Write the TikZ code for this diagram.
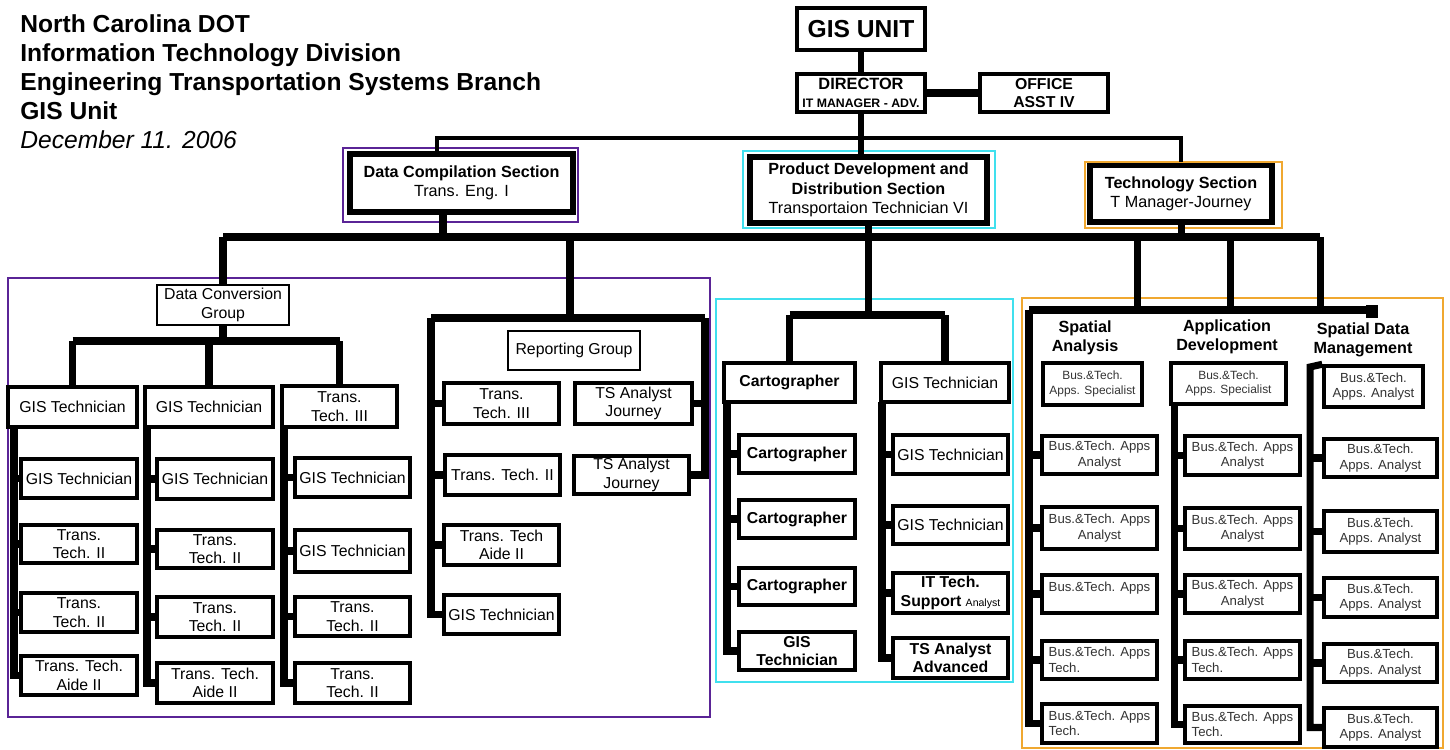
\documentclass[tikz,border=0pt]{standalone}
\usepackage{fontspec}
\setmainfont{Liberation Sans}
\usepackage{tikz}
\definecolor{secpurple}{HTML}{5A2496}
\definecolor{seccyan}{HTML}{40E0EE}
\definecolor{secorange}{HTML}{F0A830}
\tikzset{
    jobbox/.style={
        draw,
        line width=2pt,
        inner sep=0pt,
        align=center,
        font=\fontsize{9}{10.5}\selectfont
    },
    boldbox/.style={
        jobbox,
        font=\bfseries\fontsize{9}{10.5}\selectfont
    },
    smallbox/.style={
        jobbox,
        text=black!80,
        font=\fontsize{7.5}{8.8}\selectfont
    },
    sect/.style={
        draw,
        line width=3.4pt,
        inner sep=0pt,
        align=center,
        font=\fontsize{9.2}{11}\selectfont
    },
    head/.style={
        inner sep=0pt,
        align=center,
        font=\bfseries\fontsize{9.2}{10.8}\selectfont
    },
    frame/.style={
        line width=1.4pt
    },
    conn/.style={
        line width=4pt
    },
    sz/.style 2 args={
        minimum width=#1*0.02cm,
        minimum height=#2*0.02cm
    }
}

\begin{document}
\begin{tikzpicture}[x=0.02cm,y=-0.02cm]
    \useasboundingbox (0,0) rectangle (1450,750);

    %% Title
    \node (title) [anchor=north west, align=left, inner sep=0pt,
        font=\bfseries\fontsize{14}{16.5}\selectfont] at (20,14)
        {North Carolina DOT\\Information Technology Division\\Engineering Transportation Systems Branch\\GIS Unit\\{\mdseries\itshape December 11. 2006}};

    %% Unit head
    \node (gis) [jobbox, sz={128}{42}, line width=2.6pt, font=\bfseries\fontsize{14}{16}\selectfont] at (861,29) {GIS UNIT};
    \node (dir) [jobbox, sz={128}{38}, font=\bfseries\fontsize{9.3}{10}\selectfont] at (861,93) {DIRECTOR\\{\fontsize{7}{8}\selectfont IT MANAGER - ADV.}};
    \node (off) [jobbox, sz={128}{38}, font=\bfseries\fontsize{9}{10.5}\selectfont] at (1044,93) {OFFICE\\ASST IV};
    \draw[conn, line width=3.4pt] (gis) -- (dir);
    \draw[conn, line width=4.5pt] (dir) -- (off);

    %% Sections
    \node (dcs) [sect, sz={223}{58}] at (461.5,183) {\textbf{Data Compilation Section}\\Trans. Eng. I};
    \node (pds) [sect, sz={237}{66}] at (868.5,190) {\textbf{Product Development and}\\\textbf{Distribution Section}\\Transportaion Technician VI};
    \node (tcs) [sect, sz={182}{57}] at (1181,193.5) {\textbf{Technology Section}\\T Manager-Journey};
    \draw[frame, secpurple] (343,148) rectangle (578,222);
    \draw[frame, seccyan] (743,151) rectangle (995,228);
    \draw[frame, secorange] (1085,162) rectangle (1282,228);

    \coordinate (topL) at (437,138);
    \coordinate (topR) at (1181,138);
    \draw[conn, line width=2.4pt] (topL |- dcs.north) -- (topL) -- (topR) -- (topR |- tcs.north);
    \draw[conn, line width=3.4pt] (dir) -- (dir.south |- pds.north);

    %% Section bus
    \coordinate (busL) at (223,237);
    \coordinate (busR) at (1320,237);
    \coordinate (dcsdrop) at (443,237);
    \draw[conn, line width=4.5pt] (busL) -- (busR);
    \draw[conn] (dcsdrop |- dcs.south) -- (dcsdrop);
    \draw[conn] (tcs) -- (tcs |- busL);

    %% Data Compilation group
    \draw[frame, secpurple] (8,278) rectangle (710,717);
    \node (dcg) [jobbox, line width=1.6pt, sz={132}{40}] at (223,305) {Data Conversion\\Group};
    \draw[conn] (dcg) -- (busL);
    \coordinate (dcbus) at (0,341);
    \draw[conn] (dcg) -- (dcg |- dcbus);

    \node (h1) [jobbox, sz={129}{40}] at (72.5,407) {GIS Technician};
    \node (h2) [jobbox, sz={128}{40}] at (209,407) {GIS Technician};
    \node (h3) [jobbox, sz={115}{41}] at (339.5,406.5) {Trans.\\Tech. III};
    \draw[conn] (h1 |- dcbus) -- (h3 |- dcbus);
    \foreach \n in {h1,h2,h3}
        \draw[conn] (\n |- dcbus) -- (\n);

    \node (c11) [jobbox, sz={116}{39}] at (79,478.5) {GIS Technician};
    \node (c12) [jobbox, sz={116}{38}] at (79,544) {Trans.\\Tech. II};
    \node (c13) [jobbox, sz={116}{39}] at (79,612.5) {Trans.\\Tech. II};
    \node (c14) [jobbox, sz={116}{39}] at (79,675.5) {Trans. Tech.\\Aide II};
    \node (c21) [jobbox, sz={116}{40}] at (215,479) {GIS Technician};
    \node (c22) [jobbox, sz={116}{38}] at (215,549) {Trans.\\Tech. II};
    \node (c23) [jobbox, sz={116}{40}] at (215,617) {Trans.\\Tech. II};
    \node (c24) [jobbox, sz={116}{40}] at (215,683) {Trans. Tech.\\Aide II};
    \node (c31) [jobbox, sz={115}{39}] at (352.5,477.5) {GIS Technician};
    \node (c32) [jobbox, sz={115}{42}] at (352.5,551) {GIS Technician};
    \node (c33) [jobbox, sz={115}{39}] at (352.5,616.5) {Trans.\\Tech. II};
    \node (c34) [jobbox, sz={115}{40}] at (352.5,683) {Trans.\\Tech. II};

    \coordinate (v1) at (14,427);
    \coordinate (v2) at (147,427);
    \coordinate (v3) at (284,427);
    \draw[conn] (v1) |- (c14);
    \draw[conn] (v2) |- (c24);
    \draw[conn] (v3) |- (c34);
    \foreach \n in {c11,c12,c13}
        \draw[conn] (v1 |- \n) -- (\n);
    \foreach \n in {c21,c22,c23}
        \draw[conn] (v2 |- \n) -- (\n);
    \foreach \n in {c31,c32,c33}
        \draw[conn] (v3 |- \n) -- (\n);

    %% Reporting group
    \node (rg) [jobbox, line width=1.6pt, sz={132}{39}] at (574,350.5) {Reporting Group};
    \node (r1) [jobbox, sz={115}{41}] at (501.5,403.5) {Trans.\\Tech. III};
    \node (r2) [jobbox, sz={115}{40}] at (502.5,475) {Trans. Tech. II};
    \node (r3) [jobbox, sz={115}{40}] at (501.5,545) {Trans. Tech\\Aide II};
    \node (r4) [jobbox, sz={115}{39}] at (501.5,614.5) {GIS Technician};
    \node (t1) [jobbox, sz={117}{41}] at (633.5,403.5) {TS Analyst\\Journey};
    \node (t2) [jobbox, sz={115}{38}] at (631.5,475) {TS Analyst\\Journey};

    \coordinate (rpbus) at (570,318);
    \coordinate (rpL) at (431,318);
    \coordinate (rpR) at (705,318);
    \draw[conn] (rpbus |- busL) -- (rpbus);
    \draw[conn] (rpL) -- (rpR);
    \draw[conn] (rpL) |- (r4);
    \draw[conn] (rpR) |- (t2);
    \foreach \n in {r1,r2,r3}
        \draw[conn] (rpL |- \n) -- (\n);
    \draw[conn] (rpR |- t1) -- (t1);

    %% Product Development group
    \draw[frame, seccyan] (716,299) rectangle (1013,682);
    \node (ca0) [boldbox, sz={131}{39}] at (789.5,382.5) {Cartographer};
    \node (ca1) [boldbox, sz={116}{38}] at (797,454) {Cartographer};
    \node (ca2) [boldbox, sz={116}{38}] at (797,519) {Cartographer};
    \node (ca3) [boldbox, sz={116}{37}] at (797,586.5) {Cartographer};
    \node (ca4) [boldbox, sz={116}{38}] at (797,651) {GIS\\Technician};
    \node (gt0) [jobbox, sz={128}{39}] at (945,382.5) {GIS Technician};
    \node (gt1) [jobbox, sz={115}{39}] at (950.5,454.5) {GIS Technician};
    \node (gt2) [jobbox, sz={115}{38}] at (950.5,525) {GIS Technician};
    \node (gt3) [boldbox, sz={115}{40}] at (950.5,593) {IT Tech.\\Support {\mdseries\fontsize{6}{7}\selectfont Analyst}};
    \node (gt4) [boldbox, sz={115}{40}] at (950.5,658) {TS Analyst\\Advanced};

    \coordinate (cyanbus) at (0,315);
    \draw[conn] (pds) -- (pds |- cyanbus);
    \draw[conn] (ca0 |- cyanbus) -- (gt0 |- cyanbus);
    \draw[conn] (ca0 |- cyanbus) -- (ca0);
    \draw[conn] (gt0 |- cyanbus) -- (gt0);
    \coordinate (cv1) at (727,402);
    \coordinate (cv2) at (882,402);
    \draw[conn] (cv1) |- (ca4);
    \draw[conn] (cv2) |- (gt4);
    \foreach \n in {ca1,ca2,ca3}
        \draw[conn] (cv1 |- \n) -- (\n);
    \foreach \n in {gt1,gt2,gt3}
        \draw[conn] (cv2 |- \n) -- (\n);

    %% Technology group
    \draw[frame, secorange] (1022,298) rectangle (1443,748);
    \node (sah) [head] at (1085,338) {Spatial\\Analysis};
    \node (adh) [head] at (1227,337) {Application\\Development};
    \node (smh) [head] at (1363,340) {Spatial Data\\Management};

    \node (sa1) [smallbox, sz={99}{42}, font=\fontsize{6.8}{8.4}\selectfont] at (1092.5,384) {Bus.\&Tech.\\Apps. Specialist};
    \node (sa2) [smallbox, sz={115}{38}] at (1099.5,455) {Bus.\&Tech. Apps\\Analyst};
    \node (sa3) [smallbox, sz={115}{42}] at (1099.5,528) {Bus.\&Tech. Apps\\Analyst};
    \node (sa4) [smallbox, sz={115}{38}] at (1099.5,594) {Bus.\&Tech. Apps\\\mbox{}};
    \node (sa5) [smallbox, align=left, sz={115}{38}] at (1099.5,660) {Bus.\&Tech. Apps\\Tech.};
    \node (sa6) [smallbox, align=left, sz={115}{39}] at (1099.5,723.5) {Bus.\&Tech. Apps\\Tech.};

    \node (ad1) [smallbox, sz={115}{41}, font=\fontsize{6.8}{8.4}\selectfont] at (1228.5,383.5) {Bus.\&Tech.\\Apps. Specialist};
    \node (ad2) [smallbox, sz={115}{39}] at (1242.5,455.5) {Bus.\&Tech. Apps\\Analyst};
    \node (ad3) [smallbox, sz={115}{41}] at (1242.5,528.5) {Bus.\&Tech. Apps\\Analyst};
    \node (ad4) [smallbox, sz={115}{38}] at (1242.5,594) {Bus.\&Tech. Apps\\Analyst};
    \node (ad5) [smallbox, align=left, sz={115}{38}] at (1242.5,660) {Bus.\&Tech. Apps\\Tech.};
    \node (ad6) [smallbox, align=left, sz={115}{37}] at (1242.5,724.5) {Bus.\&Tech. Apps\\Tech.};

    \node (sm1) [smallbox, sz={99}{41}] at (1373.5,386.5) {Bus.\&Tech.\\Apps. Analyst};
    \node (sm2) [smallbox, sz={113}{38}] at (1380.5,458) {Bus.\&Tech.\\Apps. Analyst};
    \node (sm3) [smallbox, sz={113}{41}] at (1380.5,531.5) {Bus.\&Tech.\\Apps. Analyst};
    \node (sm4) [smallbox, sz={113}{39}] at (1380.5,597.5) {Bus.\&Tech.\\Apps. Analyst};
    \node (sm5) [smallbox, sz={113}{38}] at (1380.5,663) {Bus.\&Tech.\\Apps. Analyst};
    \node (sm6) [smallbox, sz={113}{39}] at (1380.5,727.5) {Bus.\&Tech.\\Apps. Analyst};

    \coordinate (spL) at (1029,310);
    \coordinate (spR) at (1373,310);
    \coordinate (spA) at (1137,310);
    \coordinate (spB) at (1230,310);
    \coordinate (spC) at (1320,310);
    \draw[conn] (spL) -- (spR);
    \fill (1366,305) rectangle (1378,318);
    \foreach \d in {spA,spB,spC}
        \draw[conn] (\d |- busL) -- (\d);

    \coordinate (adv) at (1174,404);
    \coordinate (smv) at (1310,367);
    \draw[conn] (spL) |- (sa6);
    \draw[conn] (adv) |- (ad6);
    \draw[conn] (sm1.north west) -- (smv) |- (sm6);
    \foreach \n in {sa2,sa3,sa4,sa5}
        \draw[conn] (spL |- \n) -- (\n);
    \foreach \n in {ad2,ad3,ad4,ad5}
        \draw[conn] (adv |- \n) -- (\n);
    \foreach \n in {sm2,sm3,sm4,sm5}
        \draw[conn] (smv |- \n) -- (\n);

\end{tikzpicture}
\end{document}
